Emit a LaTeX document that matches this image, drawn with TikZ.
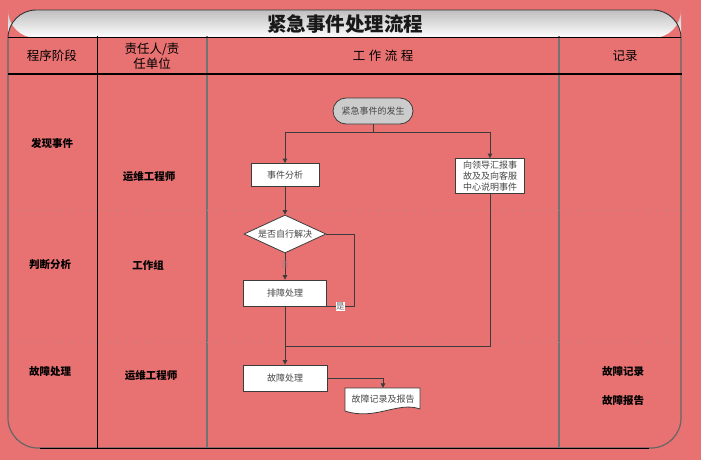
\documentclass[tikz,border=0pt]{standalone}
\usepackage{fontspec}
\setmainfont{Noto Sans CJK SC}
\usetikzlibrary{shapes.geometric,shapes.misc,arrows.meta}
\definecolor{bg}{RGB}{232,113,113}
\definecolor{edge}{RGB}{60,60,60}
\definecolor{ftext}{RGB}{70,70,70}
\tikzset{
  box/.style={draw=edge, fill=white, line width=0.8pt, inner sep=1pt, text=ftext,
              font=\fontsize{9}{10.8}\selectfont},
  term/.style={rounded rectangle, draw=edge, fill=gray!40, line width=0.8pt, inner sep=1pt,
              text=ftext, font=\fontsize{9}{10.8}\selectfont, minimum width=82pt, minimum height=26pt},
  dia/.style={diamond, aspect=2.2, draw=edge, fill=white, line width=0.8pt, inner sep=0pt,
              text=ftext, font=\fontsize{9}{10.8}\selectfont, minimum width=82pt, minimum height=38pt},
  conn/.style={draw=edge, line width=0.8pt, -{Triangle[length=4.5pt,width=4.5pt]}},
  plain/.style={draw=edge, line width=0.8pt},
  lanetxt/.style={font=\fontsize{10.5}{12}\selectfont\bfseries, text=black},
  hdr/.style={font=\fontsize{12.5}{15}\selectfont, text=black, align=center},
  lanesep/.style={draw=gray!85, line width=0.7pt, dash pattern=on 1pt off 8pt},
  nolbl/.style={font=\fontsize{7}{7}\selectfont, text=gray!60!bg, inner sep=0pt},
  yeslbl/.style={fill=white, inner sep=0.6pt, font=\fontsize{8.5}{8.5}\selectfont, text=gray!80!black},
  docshape/.style={draw=edge, fill=white, line width=0.8pt}
}
\begin{document}
\begin{tikzpicture}[x=1pt,y=-1pt]
\useasboundingbox (0,0) rectangle (701,460);
\fill[bg] (0,0) rectangle (701,460);
% header band
\shade[top color=gray!50, bottom color=white, rounded corners=28pt]
  (8,38) -- (8,10) -- (681,10) -- (681,38) -- cycle;
\draw[black!80, line width=0.9pt, rounded corners=28pt]
  (8,38) -- (8,10) -- (681,10) -- (681,38);
\node[font=\fontsize{19.5}{22}\selectfont\bfseries, text=black!90] (title) at (345,24) {紧急事件处理流程};
% frame
\draw[black!60, line width=1.2pt, rounded corners=30pt] (8,38) -- (8,448) -- (681,448) -- (681,38);
\draw[black, line width=1pt] (40,448) -- (649,448);
% column lines
\draw[black, line width=0.8pt] (97,36) -- (97,448);
\draw[black!55, line width=1.2pt] (207,36) -- (207,448);
\draw[black!55, line width=1.2pt] (559,36) -- (559,448);
% header lines
\draw[black, line width=1pt] (8,38) -- (681,38);
\draw[black, line width=1.6pt] (8,74) -- (682,74);
% lane separators
\draw[lanesep] (9,210) -- (690,210);
\draw[lanesep] (9,342) -- (690,342);
% column headers
\node[hdr] (h1) at (52,56) {程序阶段};
\node[hdr] (h2) at (152,56) {责任人/责\\任单位};
\node[hdr] (h3) at (383,56) {工\hspace{3.5pt}作\hspace{3.5pt}流\hspace{3.5pt}程};
\node[hdr] (h4) at (625,56) {记录};
% lane texts
\node[lanetxt] (p1) at (52,143) {发现事件};
\node[lanetxt] (r1) at (149,177) {运维工程师};
\node[lanetxt] (p2) at (50,265) {判断分析};
\node[lanetxt] (r2) at (148,265) {工作组};
\node[lanetxt] (p3) at (50,371) {故障处理};
\node[lanetxt] (r3) at (151,376) {运维工程师};
\node[lanetxt] (rec1) at (623,371) {故障记录};
\node[lanetxt] (rec2) at (623,400) {故障报告};
% flow nodes
\node[term] (start) at (373,111) {紧急事件的发生};
\node[box, minimum width=68pt, minimum height=23pt] (fa) at (285,175) {事件分析};
\node[box, minimum width=69pt, minimum height=35pt, align=center] (rb) at (490,176) {向领导汇报事\\故及及向客服\\中心说明事件};
\node[dia] (dia) at (285,234) {是否自行解决};
\node[box, minimum width=83pt, minimum height=26pt] (pz) at (285,293) {排障处理};
\node[box, minimum width=84pt, minimum height=26pt] (gz) at (285,378) {故障处理};
\path[docshape] (345,388) -- (420,388) -- (420,409) .. controls (398,401) and (375,421) .. (345,411) -- cycle;
\node[inner sep=0pt, minimum width=74pt, minimum height=22pt, text=ftext, font=\fontsize{9}{10.8}\selectfont] (doc) at (383,399) {故障记录及报告};
% connectors
\coordinate (split) at (373,132);
\coordinate (sx) at (354,0);
\coordinate (merge) at (285,346);
\draw[plain] (start.south) -- (split);
\draw[conn] (split) -| (fa.north);
\draw[conn] (split) -| (rb.north);
\draw[conn] (fa.south) -- (dia.north);
\draw[conn] (dia.south) -- node[nolbl, pos=0.45] {否} (pz.north);
\draw[plain] (dia.east) -- (dia.east -| sx) -- (pz.south east -| sx) -- node[yeslbl, pos=0.5] {是} (pz.south east);
\draw[plain] (rb.south) |- (merge);
\draw[conn] (pz.south) -- (gz.north);
\draw[conn] (gz.east) -| (doc.north);
\end{tikzpicture}
\end{document}
